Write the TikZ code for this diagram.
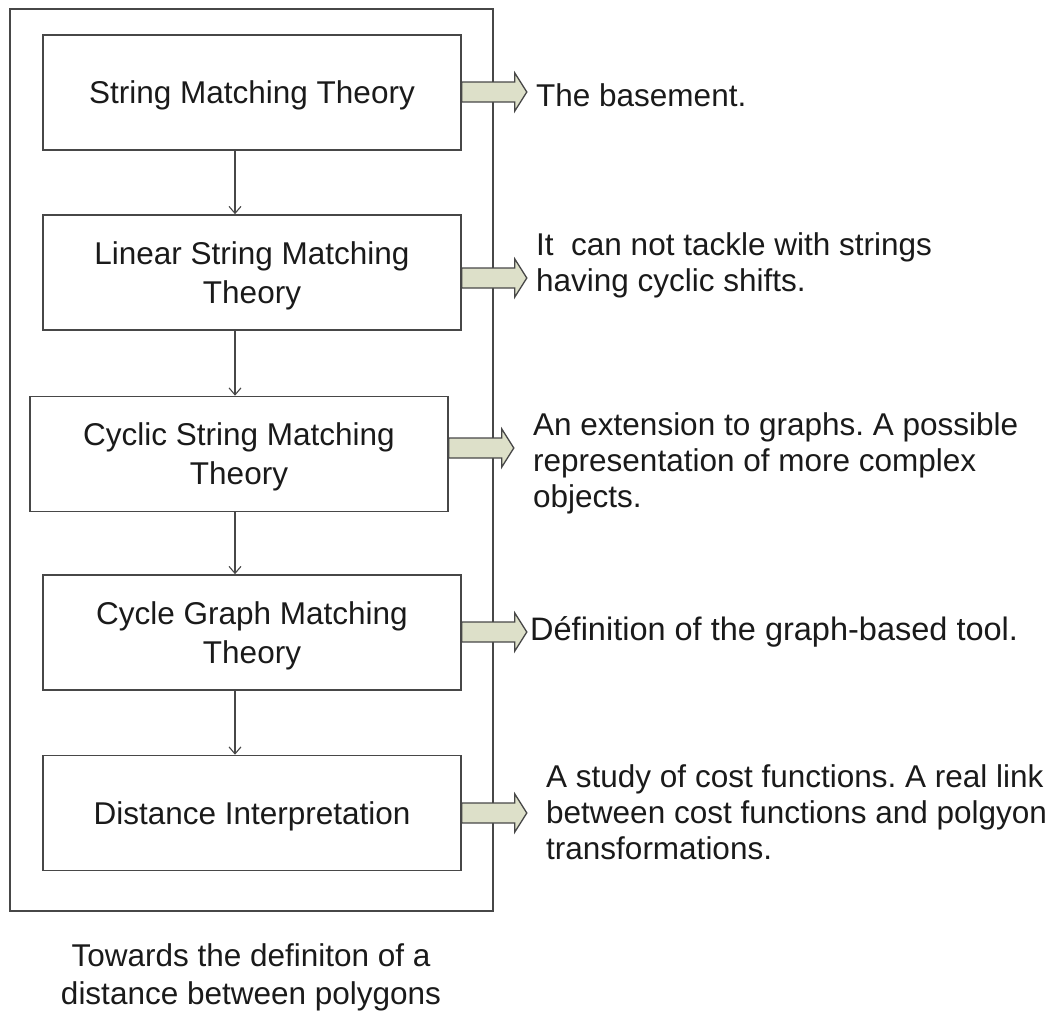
\documentclass[tikz,border=0pt]{standalone}
\usepackage{fontspec}
\setmainfont{Liberation Sans}
\usetikzlibrary{arrows.meta}
\definecolor{edgegray}{HTML}{474747}
\definecolor{arrowfill}{HTML}{DDE0C9}
\definecolor{ink}{HTML}{1A1A1A}
\frenchspacing
\begin{document}
\begin{tikzpicture}[x=1pt,y=-1pt,
  stage/.style={draw=edgegray, line width=1.6pt, minimum width=418pt, minimum height=115pt,
    inner sep=0pt},
  stagetext/.style={align=center, text=ink, font=\fontsize{31.5}{39}\selectfont, inner sep=0pt},
  note/.style={anchor=west, align=left, text=ink, inner sep=0pt,
    font=\fontsize{31.5}{36}\selectfont},
  flow/.style={draw=edgegray, line width=1.1pt, -{Straight Barb[length=7pt,width=12pt]}},
  barrow/.style={draw=edgegray, line width=1.3pt, fill=arrowfill, line join=miter}
]
\useasboundingbox (0,0) rectangle (1057,1010);

% enclosing frame
\node[draw=edgegray, line width=2pt, minimum width=483pt, minimum height=902pt, inner sep=0pt]
  (frame) at (251.5,460) {};

% stages (box, then its centred title set slightly low)
\node[stage] (b1) at (252,92.5) {};
\node[stage] (b2) at (252,272.5) {};
\node[stage] (b3) at (239,454) {};
\node[stage] (b4) at (252,632.5) {};
\node[stage] (b5) at (252,813) {};
\node[stagetext] (l1) at ([yshift=-3pt]b1.center) {String Matching Theory};
\node[stagetext] (l2) at ([yshift=-3pt]b2.center) {Linear String Matching\\Theory};
\node[stagetext] (l3) at ([yshift=-3pt]b3.center) {Cyclic String Matching\\Theory};
\node[stagetext] (l4) at ([yshift=-3pt]b4.center) {Cycle Graph Matching\\Theory};
\node[stagetext] (l5) at ([yshift=-3pt]b5.center) {Distance Interpretation};

% vertical flow
\coordinate (spine) at (235,0);
\draw[flow] (b1.south -| spine) -- (b2.north -| spine);
\draw[flow] (b2.south -| spine) -- (b3.north -| spine);
\draw[flow] (b3.south -| spine) -- (b4.north -| spine);
\draw[flow] (b4.south -| spine) -- (b5.north -| spine);

% side notes
\node[note] (t1) at (536,95) {The basement.};
\node[note] (t2) at (536,265) {It \ can not tackle with strings\\having cyclic shifts.};
\node[note] (t3) at (533,463) {An extension to graphs. A possible\\representation of more complex\\objects.};
\node[note, font=\fontsize{32.5}{36}\selectfont] (t4) at (530,632) {Définition of the graph-based tool.};
\node[note] (t5) at (546,812) {A study of cost functions. A real link\\between cost functions and polgyon\\transformations.};

% block arrows from each stage to its note
\foreach \b/\dy in {b1/0.5, b2/-5.5, b3/6, b4/0.5, b5/0}{
  \draw[barrow] ([yshift=\dy pt]\b.east) ++(0,-10) -- ++(53,0) -- ++(0,-9) -- ++(12,19)
     -- ++(-12,19) -- ++(0,-9) -- ++(-53,0) -- cycle;
}

% caption
\node[align=center, text=ink, inner sep=0pt, font=\fontsize{31.5}{38}\selectfont]
  (cap) at (251,977) {Towards the definiton of a\\distance between polygons};
\end{tikzpicture}
\end{document}
